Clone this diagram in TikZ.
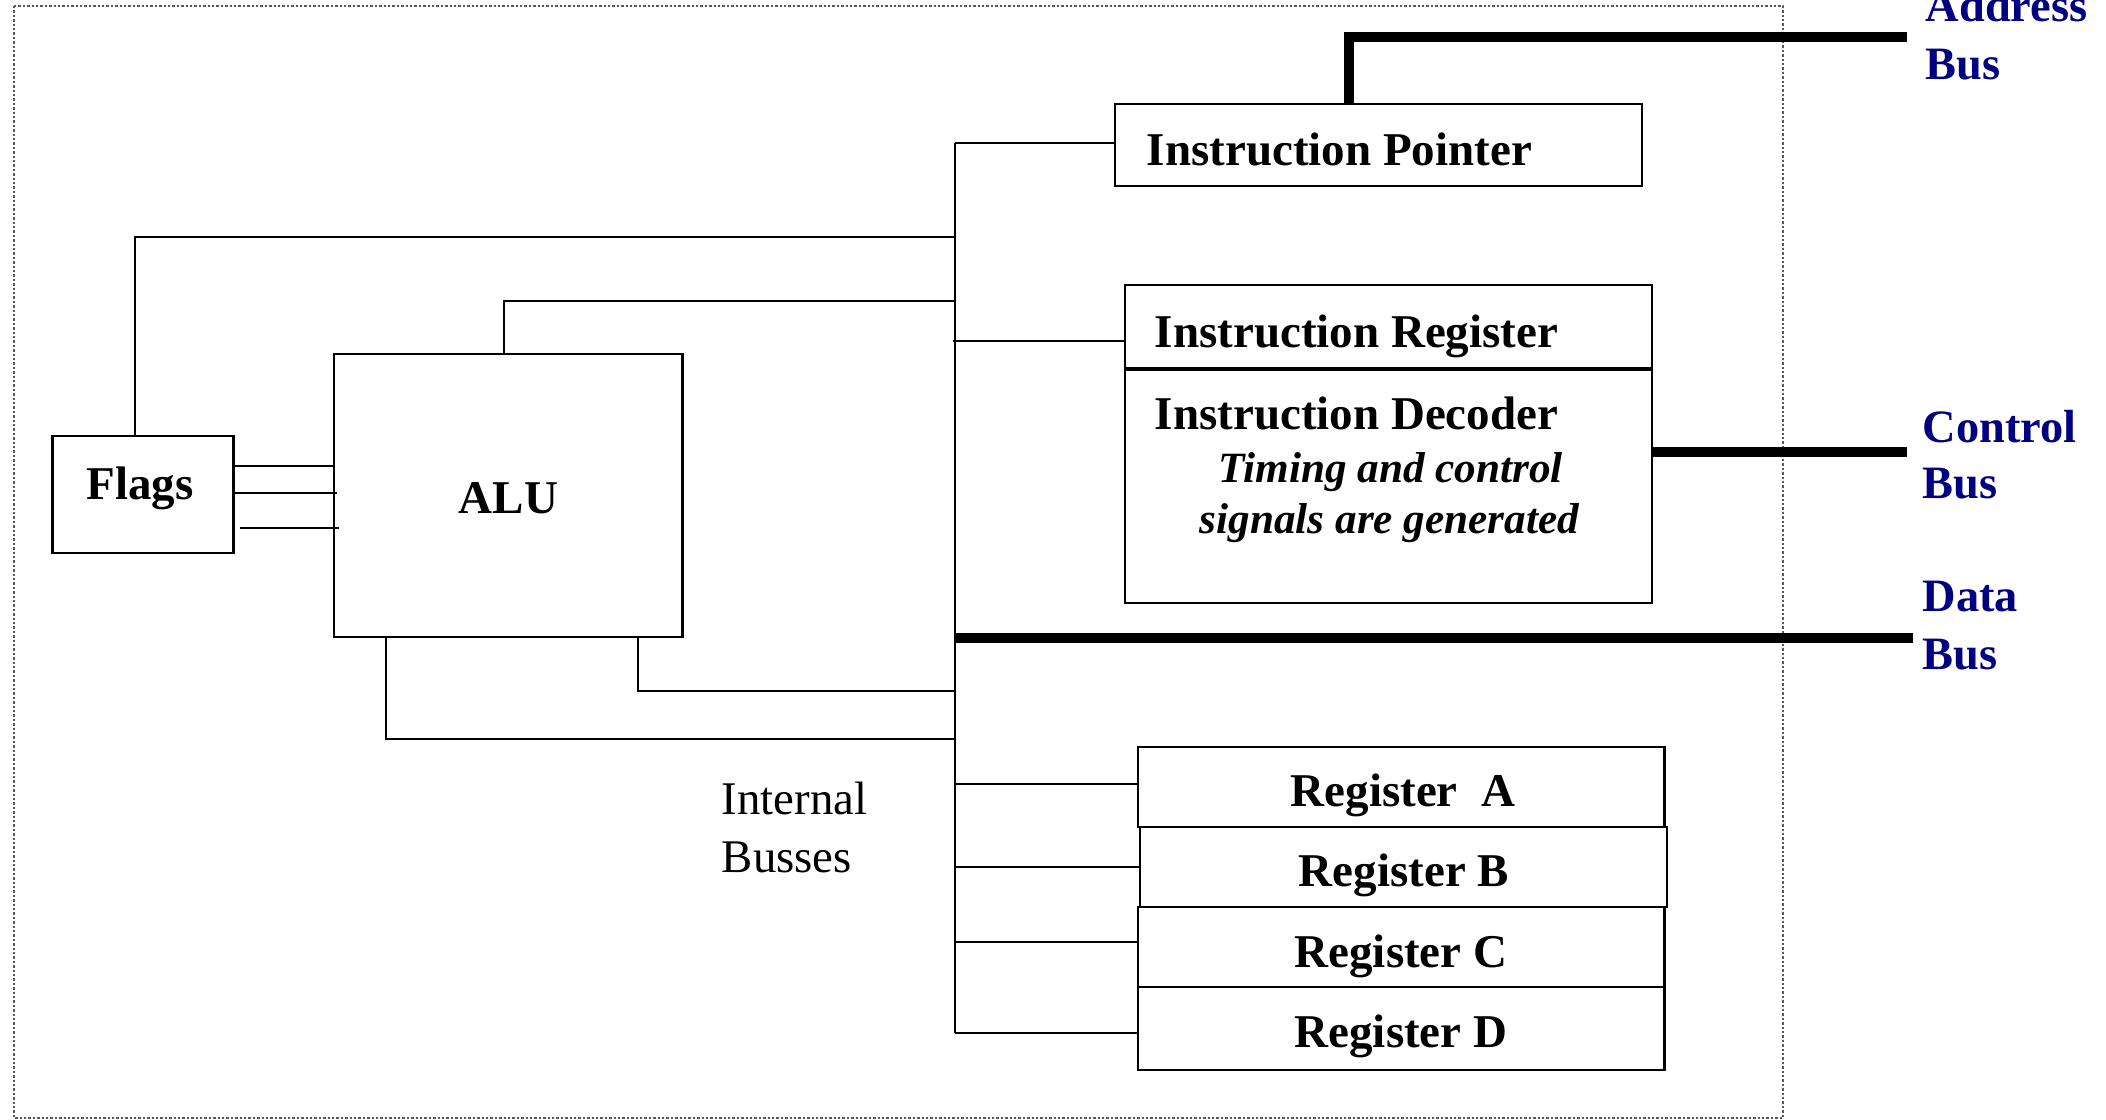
\documentclass[tikz,border=0pt]{standalone}
\usepackage{fontspec}
\setmainfont{Liberation Serif}
\usetikzlibrary{fit}
\definecolor{busblue}{RGB}{0,0,128}
\begin{document}
\begin{tikzpicture}[x=0.25pt,y=-0.25pt,
  wire/.style={line width=0.6pt},
  busline/.style={line width=2.5pt},
  frameline/.style={line width=0.4pt, gray!70!black, dash pattern=on 0.6pt off 0.5pt},
  blockbox/.style={draw, line width=0.7pt, inner sep=0pt},
  lbl/.style={inner sep=0pt, anchor=base west, font=\fontsize{11.75pt}{14pt}\selectfont\bfseries},
  clbl/.style={lbl, anchor=base},
  note/.style={inner sep=0pt, anchor=base west, font=\fontsize{10.8pt}{13pt}\selectfont\bfseries\itshape},
  plain/.style={inner sep=0pt, anchor=base west, font=\fontsize{11.7pt}{14pt}\selectfont},
  buslbl/.style={inner sep=0pt, anchor=base west, text=busblue, font=\fontsize{11.6pt}{14pt}\selectfont\bfseries}]
\useasboundingbox (0,0) rectangle (2106,1120);

% outer dotted frame
\draw[frameline] (14,6) rectangle (1783,1118);

% blocks
\node[blockbox, fit={(1115,104) (1642,186)}] (ip) {};
\node[blockbox, fit={(1125,285) (1652,603)}] (ir) {};
\node[blockbox, fit={(52.6,436) (233.6,553)}] (flags) {};
\node[blockbox, fit={(334,354) (682.6,637)}] (alu) {};
\node[blockbox, fit={(1138,747) (1664.5,827)}] (rega) {};
\node[blockbox, fit={(1140,827) (1667,907)}] (regb) {};
\node[blockbox, fit={(1138,907) (1664.5,987)}] (regc) {};
\node[blockbox, fit={(1138,987) (1664.5,1070)}] (regd) {};

% divider between instruction register and decoder
\coordinate (dv) at (0,369);
\draw[line width=1.2pt] (ir.west |- dv) -- (ir.east |- dv);

% block texts
\node[lbl] (tip) at (1146,166) {Instruction Pointer};
\node[lbl] (tir) at (1154,348) {Instruction Register};
\node[lbl] (tid) at (1154,430) {Instruction Decoder};
\node[note] (tn1) at (1218,483) {Timing and control};
\node[note] (tn2) at (1199,534) {signals are generated};
\node[clbl] (tflags) at (140,500) {Flags};
\node[clbl] (talu) at (508.5,514) {ALU};
\node[clbl] (ta) at (1403,807) {Register\ \ A};
\node[clbl] (tb) at (1404,887) {Register B};
\node[clbl] (tc) at (1401,967) {Register C};
\node[clbl] (td) at (1401,1047) {Register D};
\node[plain] (tint) at (721,815) {Internal};
\node[plain] (tbus) at (721,873) {Busses};

% bus labels
\node[buslbl] (la1) at (1925,22) {Address};
\node[buslbl] (la2) at (1925,80) {Bus};
\node[buslbl] (lc1) at (1922,443) {Control};
\node[buslbl] (lc2) at (1922,499) {Bus};
\node[buslbl] (ld1) at (1922,612) {Data};
\node[buslbl] (ld2) at (1922,670) {Bus};

% internal bus spine
\coordinate (bt) at (955,143);
\coordinate (bb) at (955,1033);
\draw[wire] (bt) -- (bb);
\draw[wire] (bt) -- (bt -| ip.west);

% flags and ALU feeds
\coordinate (fx) at (135,237);
\draw[wire] (fx |- flags.north) -- (fx) -- (fx -| bt);
\coordinate (ax) at (504,301);
\draw[wire] (ax |- alu.north) -- (ax) -- (ax -| bt);
\coordinate (irl) at (953,341);
\draw[wire] (irl) -- (irl -| ir.west);
\coordinate (ar) at (638,691);
\draw[wire] (ar |- alu.south) -- (ar) -- (ar -| bt);
\coordinate (al) at (386,739);
\draw[wire] (al |- alu.south) -- (al) -- (al -| bt);

% flags to ALU
\coordinate (f1) at (0,466);
\coordinate (f2) at (0,493);
\coordinate (f3) at (0,528);
\draw[wire] (flags.east |- f1) -- (alu.west |- f1);
\draw[wire] (flags.east |- f2) -- ([xshift=1pt]alu.west |- f2);
\draw[wire] ([xshift=1.2pt]flags.east |- f3) -- ([xshift=1.7pt]alu.west |- f3);

% register taps
\coordinate (r1) at (0,784);
\coordinate (r2) at (0,867);
\coordinate (r3) at (0,942);
\draw[wire] (bt |- r1) -- (rega.west |- r1);
\draw[wire] (bt |- r2) -- (regb.west |- r2);
\draw[wire] (bt |- r3) -- (regc.west |- r3);
\draw[wire] (bb) -- (bb -| regd.west);

% external busses
\coordinate (adr) at (1349,37);
\coordinate (adrend) at (1907,37);
\draw[busline] (adr |- ip.north) -- (adr) -- (adrend);
\coordinate (ctl) at (1907,452);
\draw[busline] (ir.east |- ctl) -- (ctl);
\coordinate (dat) at (1913,638);
\draw[busline] (dat -| bt) -- (dat);
\end{tikzpicture}
\end{document}
